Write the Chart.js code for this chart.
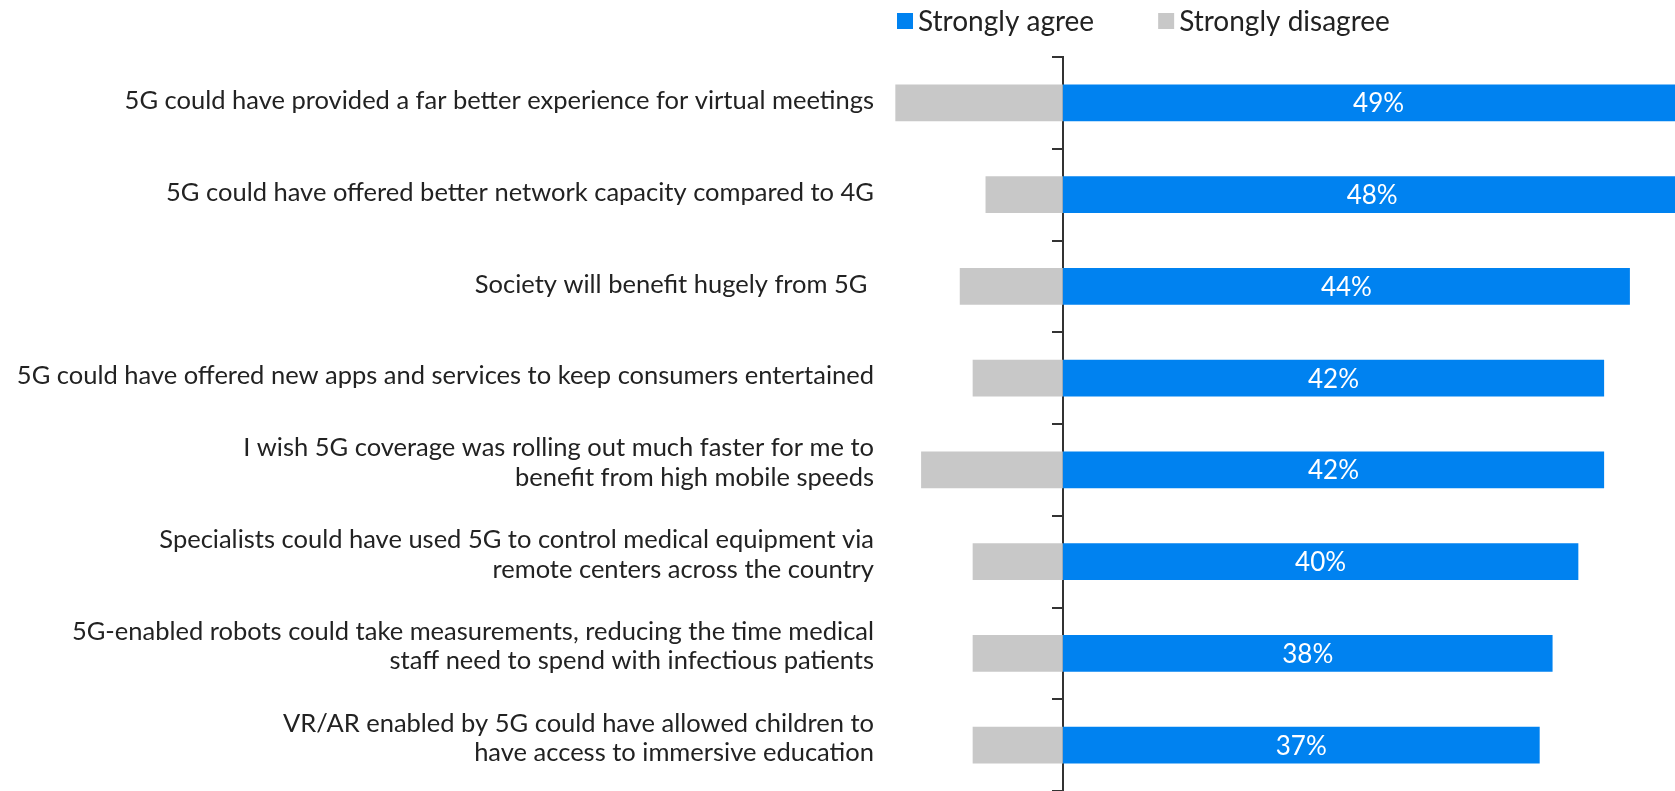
<!DOCTYPE html>
<html>
<head>
<meta charset="utf-8">
<script src="https://cdn.jsdelivr.net/npm/chart.js@4.4.1/dist/chart.umd.min.js"></script>
<style>
  html, body { margin: 0; padding: 0; background: #ffffff; }
  #wrap { position: relative; width: 1675px; height: 791px; }
</style>
</head>
<body>
<div id="wrap"><canvas id="c"></canvas></div>
<script>
const categories = [
  "5G could have provided a far better experience for virtual meetings",
  "5G could have offered better network capacity compared to 4G",
  "Society will benefit hugely from 5G ",
  "5G could have offered new apps and services to keep consumers entertained",
  ["I wish 5G coverage was rolling out much faster for me to", "benefit from high mobile speeds"],
  ["Specialists could have used 5G to control medical equipment via", "remote centers across the country"],
  ["5G-enabled robots could take measurements, reducing the time medical", "staff need to spend with infectious patients"],
  ["VR/AR enabled by 5G could have allowed children to", "have access to immersive education"]
];
const seriesNames = ["Strongly agree", "Strongly disagree"];
const stronglyAgree = [49, 48, 44, 42, 42, 40, 38, 37];
const stronglyDisagree = [13, 6, 8, 7, 11, 7, 7, 7];

const BLUE = '#0082F0';
const GREY = '#C8C8C8';
const TEXT = '#222222';
const FONT = 'Lato';

// nudge category labels up slightly (two-line labels sit higher in the original)
const labelNudge = {
  id: 'labelNudge',
  beforeDraw(chart) {
    const items = chart.scales.y.getLabelItems();
    items.forEach(it => {
      if (it._nudged) return;
      const shift = Array.isArray(it.label) ? -7 : -2;
      it.options.translation[1] += shift;
      it._nudged = true;
    });
  }
};

const valueLabels = {
  id: 'valueLabels',
  afterDatasetsDraw(chart) {
    const ctx = chart.ctx;
    const meta = chart.getDatasetMeta(0);
    ctx.save();
    ctx.font = '26px ' + FONT;
    ctx.fillStyle = '#ffffff';
    ctx.textAlign = 'center';
    ctx.textBaseline = 'middle';
    meta.data.forEach((el, i) => {
      const v = chart.data.datasets[0].data[i];
      ctx.fillText(v + '%', (el.x + el.base) / 2, el.y + 1);
    });
    ctx.restore();
  }
};

const topLegend = {
  id: 'topLegend',
  afterDraw(chart) {
    const ctx = chart.ctx;
    ctx.save();
    ctx.font = '28px ' + FONT;
    ctx.textBaseline = 'middle';
    ctx.textAlign = 'left';
    let x = 897;
    const boxTop = 13, box = 16, midY = 21;
    chart.data.datasets.forEach(ds => {
      ctx.fillStyle = ds.backgroundColor;
      ctx.fillRect(x, boxTop, box, box);
      ctx.fillStyle = TEXT;
      ctx.fillText(ds.label, x + box + 5, midY + 1);
      x += box + 5 + ctx.measureText(ds.label).width + 64;
    });
    ctx.restore();
  }
};

new Chart(document.getElementById('c'), {
  type: 'bar',
  data: {
    labels: categories,
    datasets: [
      { label: seriesNames[0], data: stronglyAgree, backgroundColor: BLUE, borderWidth: 0,
        barPercentage: 0.403, categoryPercentage: 1 },
      { label: seriesNames[1], data: stronglyDisagree.map(v => -v), backgroundColor: GREY, borderWidth: 0,
        barPercentage: 0.403, categoryPercentage: 1 }
    ]
  },
  options: {
    indexAxis: 'y',
    responsive: true,
    maintainAspectRatio: false,
    animation: false,
    layout: { padding: { top: 57, left: 0, right: 0, bottom: 0 } },
    plugins: {
      legend: { display: false },
      tooltip: { enabled: false }
    },
    scales: {
      x: {
        display: false,
        stacked: true,
        min: -14.5,
        max: 47.5
      },
      y: {
        stacked: true,
        position: 'left',
        grid: { display: false, drawTicks: false },
        border: { display: false },
        ticks: {
          color: TEXT,
          padding: 2,
          font: { family: FONT, size: 25.5, lineHeight: 1.15 },
          autoSkip: false
        },
        afterFit(scale) {
          scale.width = 876;
          scale.paddingTop = 0;
          scale.paddingBottom = 0;
        }
      },
      y2: {
        type: 'category',
        axis: 'y',
        position: { x: 0 },
        offset: true,
        z: 1,
        ticks: { display: false },
        grid: {
          display: true,
          offset: true,
          drawOnChartArea: false,
          drawTicks: true,
          tickLength: 10,
          color: '#333333',
          lineWidth: 2
        },
        border: { display: true, color: '#333333', width: 2 }
      }
    }
  },
  plugins: [labelNudge, valueLabels, topLegend]
});
</script>
</body>
</html>
